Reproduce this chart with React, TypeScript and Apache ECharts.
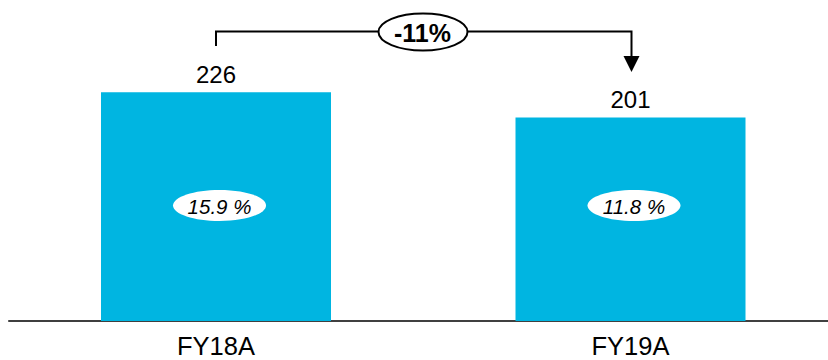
import React, { useEffect, useRef } from "react";
import * as echarts from "echarts";

const categories = ["FY18A", "FY19A"];
const values = [226, 201];
const marginLabels = ["15.9 %", "11.8 %"];
const changeLabel = "-11%";

const FONT = "'Liberation Sans', Arial, sans-serif";

export default function App() {
  const ref = useRef<HTMLDivElement>(null);
  useEffect(() => {
    document.body.style.margin = "0";
    const chart = echarts.init(ref.current!, null, { renderer: "svg" });
    chart.setOption({
      animation: false,
      grid: { left: 8.75, width: 829, top: 0, bottom: 39, containLabel: false, outerBoundsMode: "none" },
      xAxis: {
        type: "category",
        data: categories,
        axisLine: { lineStyle: { color: "#000", width: 1.5 } },
        axisTick: { show: false },
        axisLabel: { color: "#000", fontSize: 25.5, fontFamily: FONT, margin: 12 },
      },
      yAxis: {
        type: "value",
        min: 0,
        max: 317,
        show: false,
        splitLine: { show: false },
      },
      series: [
        {
          type: "bar",
          data: values,
          barWidth: 230,
          itemStyle: { color: "#00B5E1" },
          label: {
            show: true,
            position: "top",
            distance: 6,
            color: "#000",
            fontSize: 24,
            fontFamily: FONT,
          },
        },
        {
          type: "custom",
          data: marginLabels.map((m, i) => [i, 0, m]),
          encode: { x: 0, y: 1 },
          z: 5,
          renderItem: (params: any, api: any) => {
            const i = api.value(0);
            const p = api.coord([i, 0]);
            const cx = p[0] + 3.5;
            const cy = 205.5;
            return {
              type: "group",
              children: [
                {
                  type: "ellipse",
                  shape: { cx, cy, rx: 46.5, ry: 15.5 },
                  style: { fill: "#fff", stroke: "none" },
                },
                {
                  type: "text",
                  x: cx,
                  y: cy + 0.5,
                  style: {
                    text: marginLabels[params.dataIndex],
                    fill: "#000",
                    fontSize: 20.5,
                    fontStyle: "italic",
                    fontFamily: FONT,
                    align: "center",
                    verticalAlign: "middle",
                  },
                },
              ],
            };
          },
        },
        {
          type: "custom",
          data: [[0, 0, changeLabel]],
          encode: { x: 0, y: 1 },
          z: 6,
          renderItem: (params: any, api: any) => {
            const a = api.coord([0, 0]);
            const b = api.coord([1, 0]);
            const x0 = a[0];
            const x1 = b[0] + 1;
            const yTop = 31.5;
            const mid = 423;
            return {
              type: "group",
              children: [
                {
                  type: "polyline",
                  shape: { points: [[x0, 46], [x0, yTop], [x1, yTop], [x1, 58]] },
                  style: { stroke: "#000", lineWidth: 2, fill: "none" },
                },
                {
                  type: "polygon",
                  shape: { points: [[x1 - 8, 56], [x1 + 8, 56], [x1, 72]] },
                  style: { fill: "#000" },
                },
                {
                  type: "ellipse",
                  shape: { cx: mid, cy: 32, rx: 44.5, ry: 18.5 },
                  style: { fill: "#fff", stroke: "#000", lineWidth: 2 },
                },
                {
                  type: "text",
                  x: mid - 0.5,
                  y: 33,
                  style: {
                    text: changeLabel,
                    fill: "#000",
                    fontSize: 25,
                    fontWeight: "bold",
                    fontFamily: FONT,
                    align: "center",
                    verticalAlign: "middle",
                  },
                },
              ],
            };
          },
        },
      ],
    });
    return () => chart.dispose();
  }, []);
  return <div ref={ref} style={{ width: 828, height: 360 }} />;
}
